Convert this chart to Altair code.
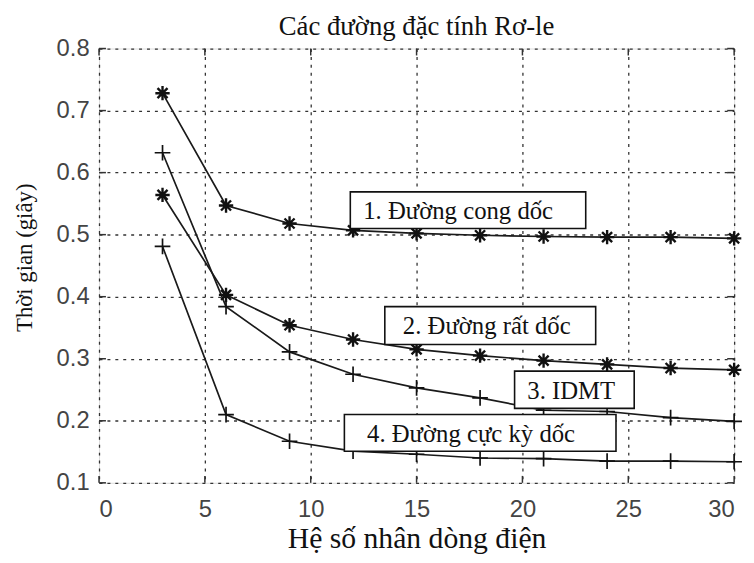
import altair as alt
import pandas as pd

# ---- data ----
x_vals = [3, 6, 9, 12, 15, 18, 21, 24, 27, 30]
s1 = [0.728, 0.547, 0.518, 0.507, 0.502, 0.499, 0.497, 0.496, 0.496, 0.494]
s2 = [0.564, 0.403, 0.354, 0.331, 0.315, 0.305, 0.297, 0.291, 0.285, 0.282]
s3 = [0.632, 0.384, 0.311, 0.275, 0.253, 0.237, 0.217, 0.215, 0.205, 0.199]
s4 = [0.481, 0.210, 0.167, 0.151, 0.146, 0.140, 0.139, 0.135, 0.135, 0.134]
series_names = ["1", "2", "3", "4"]
series_markers = ["star", "star", "plus", "plus"]

label_texts = ["1. Đường cong dốc", "2. Đường rất dốc", "3. IDMT", "4. Đường cực kỳ dốc"]
box_x1 = [11.87, 13.50, 19.63, 11.59]
box_x2 = [22.99, 23.46, 25.28, 24.42]
box_y1 = [0.569, 0.384, 0.280, 0.210]
box_y2 = [0.510, 0.323, 0.220, 0.151]
text_x = [12.48, 14.35, 20.23, 12.66]

x_ticks = [0, 5, 10, 15, 20, 25, 30]
y_ticks = [0.1, 0.2, 0.3, 0.4, 0.5, 0.6, 0.7, 0.8]

title_text = "Các đường đặc tính Rơ-le"
x_title = "Hệ số nhân dòng điện"
y_title = "Thời gian (giây)"

# ---- tables ----
rows = []
for name, mk, ys in zip(series_names, series_markers, [s1, s2, s3, s4]):
    for xv, yv in zip(x_vals, ys):
        rows.append({"x": xv, "y": yv, "s": name, "m": mk})
df = pd.DataFrame(rows)

labels = pd.DataFrame({
    "t": label_texts, "x1": box_x1, "x2": box_x2, "y1": box_y1, "y2": box_y2,
    "tx": text_x, "ty": [(a + b) / 2 for a, b in zip(box_y1, box_y2)],
})
xt = pd.DataFrame({"x": x_ticks})
yt = pd.DataFrame({"y": y_ticks})

W, H = 642, 439
serif = "Liberation Serif"
sans = "Liberation Sans"

xs = alt.Scale(domain=[0, 30], nice=False, zero=False)
ys_ = alt.Scale(domain=[0.1, 0.8], nice=False, zero=False)

X = alt.X("x:Q", scale=xs, axis=alt.Axis(
    values=x_ticks, title=x_title, grid=True, domain=False, ticks=False,
    labelFont=sans, labelFontSize=24, labelColor="#444", labelPadding=15,
    titleFont=serif, titleFontSize=30, titleFontWeight="normal", titleColor="#111",
    titleBaseline="alphabetic", titleY=65,
    gridColor="#333", gridDash=[3, 5], gridWidth=1.3))
Y = alt.Y("y:Q", scale=ys_, axis=alt.Axis(
    values=y_ticks, format=".1f", title=y_title, grid=True, domain=False, ticks=False,
    labelFont=sans, labelFontSize=24, labelColor="#444", labelPadding=10,
    titleFont=serif, titleFontSize=23, titleFontWeight="normal", titleColor="#111",
    titleX=-63, titleY=211,
    gridColor="#333", gridDash=[3, 5], gridWidth=1.3))

lines = alt.Chart(df).mark_line(color="#1a1a1a", strokeWidth=1.7).encode(
    x=X, y=Y, detail="s:N")

star_path = "M-1,0L1,0M0,-1L0,1M-0.7,-0.7L0.7,0.7M-0.7,0.7L0.7,-0.7"
plus_path = "M-1,0L1,0M0,-1L0,1"

stars = alt.Chart(df[df.m == "star"]).mark_point(
    shape=star_path, size=210, filled=False, stroke="#111", strokeWidth=2.4, opacity=1
).encode(x="x:Q", y="y:Q")
pluses = alt.Chart(df[df.m == "plus"]).mark_point(
    shape=plus_path, size=250, filled=False, stroke="#111", strokeWidth=1.7, opacity=1
).encode(x="x:Q", y="y:Q")

boxes = alt.Chart(labels).mark_rect(fill="white", stroke="#111", strokeWidth=1.6).encode(
    x="x1:Q", x2="x2:Q", y="y1:Q", y2="y2:Q")
texts = alt.Chart(labels).mark_text(
    font=serif, fontSize=25, color="#111", align="left", baseline="middle", dy=1
).encode(x="tx:Q", y="ty:Q", text="t:N")

# inward tick marks on all four sides
tick_b = alt.Chart(xt).mark_rule(color="#333", strokeWidth=1.5).encode(
    x="x:Q", y=alt.value(H), y2=alt.value(H - 7))
tick_t = alt.Chart(xt).mark_rule(color="#333", strokeWidth=1.5).encode(
    x="x:Q", y=alt.value(0), y2=alt.value(7))
tick_l = alt.Chart(yt).mark_rule(color="#333", strokeWidth=1.5).encode(
    y="y:Q", x=alt.value(0), x2=alt.value(7))
tick_r = alt.Chart(yt).mark_rule(color="#333", strokeWidth=1.5).encode(
    y="y:Q", x=alt.value(W), x2=alt.value(W - 7))

chart = alt.layer(
    lines, tick_b, tick_t, tick_l, tick_r, stars, pluses, boxes, texts
).properties(
    width=W, height=H,
    title=alt.TitleParams(title_text, font=serif, fontSize=27, fontWeight="normal",
                          color="#111", anchor="middle", baseline="alphabetic", offset=-25),
    autosize=alt.AutoSizeParams(type="none"),
    padding={"left": 92, "top": 38, "right": 12, "bottom": 70},
).configure_view(
    stroke="#555", strokeWidth=2.2
).configure(background="white")

chart.save("out.html", embed_options={"renderer": "svg", "actions": False})
